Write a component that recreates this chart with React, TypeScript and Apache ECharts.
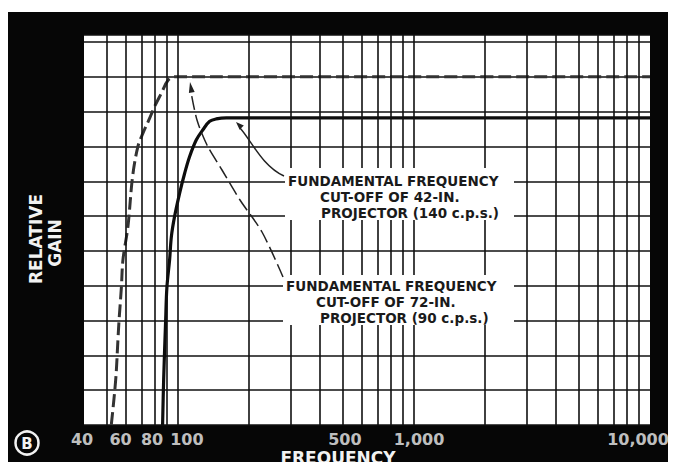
import { useEffect, useRef } from "react";
import * as echarts from "echarts";

// Dashed curve (42-in. projector response), frequency in c.p.s. vs relative gain
const dashedFreq = [52.2, 54.5, 55.7, 56.3, 57.6, 58.5, 61.4, 64.3, 67.7, 71.1, 75.9, 79.7, 85.1, 90.8, 96.8, 10000];
const dashedGain = [0, 1.3, 2.45, 3.0, 3.95, 4.75, 5.7, 7.15, 8.0, 8.38, 8.81, 9.15, 9.53, 9.9, 10.0, 10.0];

// Solid curve (72-in. projector response)
const solidFreq = [86.1, 87.0, 88.7, 89.8, 92.2, 93.8, 96.8, 101.7, 106.8, 112.1, 119.7, 127.6, 136.3, 145.4, 160.3, 10000];
const solidGain = [0, 1.3, 3.0, 3.95, 4.74, 5.41, 5.99, 6.66, 7.23, 7.71, 8.19, 8.48, 8.72, 8.79, 8.82, 8.82];

// Log grid lines (vertical)
const gridFreqs = [50, 60, 70, 80, 90, 100, 200, 300, 400, 500, 600, 700, 800, 900, 1000, 2000, 3000, 4000, 5000, 6000, 7000, 8000, 9000];

// Tick labels
const tickValues = [40, 60, 80, 100, 500, 1000, 10000];
const tickLabels = ["40", "60", "80", "100", "500", "1,000", "10,000"];
const tickLabelNudge = [-2, -5, -3, 9, 2, 5, -12];

const label1Lines = ["FUNDAMENTAL FREQUENCY", "CUT-OFF OF 42-IN.", "PROJECTOR (140 c.p.s.)"];
const label2Lines = ["FUNDAMENTAL FREQUENCY", "CUT-OFF OF 72-IN.", "PROJECTOR (90 c.p.s.)"];

const FONT = '"DejaVu Sans", sans-serif';

export default function App() {
  const ref = useRef<HTMLDivElement>(null);
  useEffect(() => {
    const chart = echarts.init(ref.current!, null, { renderer: "svg" });
    const lineStyle = (pad: number) => ({
      fill: "#1a1a1a",
      font: `bold 13.5px ${FONT}`,
      lineHeight: 15.8,
      padding: [0, 0, 0, pad],
    });
    const annBlock = (lines: string[], x: number, y: number, pads: number[]) => ({
      type: "text",
      z: 20,
      x,
      y,
      style: {
        text: `{a|${lines[0]}}\n{b|${lines[1]}}\n{c|${lines[2]}}`,
        textAlign: "left",
        textVerticalAlign: "top",
        rich: {
          a: lineStyle(pads[0]),
          b: lineStyle(pads[1]),
          c: lineStyle(pads[2]),
        },
      },
    });
    chart.setOption({
      animation: false,
      backgroundColor: "#ffffff",
      grid: {
        left: 84,
        right: 25,
        top: 35,
        bottom: 37,
        show: true,
        backgroundColor: "#ffffff",
        borderWidth: 0,
      },
      xAxis: {
        type: "log",
        logBase: 10,
        min: 40,
        max: 10000,
        axisLine: { show: false },
        axisTick: { show: false },
        axisLabel: { show: false },
        splitLine: { show: false },
      },
      yAxis: {
        type: "value",
        min: 0,
        max: 11.2,
        interval: 1,
        axisLine: { show: false },
        axisTick: { show: false },
        axisLabel: { show: false },
        splitLine: { show: true, lineStyle: { color: "#111", width: 1.6 } },
      },
      series: [
        {
          type: "line",
          name: "grid",
          data: [],
          z: 1,
          silent: true,
          markLine: {
            silent: true,
            symbol: ["none", "none"],
            label: { show: false },
            lineStyle: { color: "#111", width: 1.6, type: "solid" },
            emphasis: { disabled: true },
            data: gridFreqs.map((f) => ({ xAxis: f })),
          },
        },
        {
          type: "line",
          name: "42-in.",
          z: 4,
          data: dashedFreq.map((f, i) => [f, dashedGain[i]]),
          showSymbol: false,
          symbol: "none",
          smooth: 0.35,
          lineStyle: { color: "#333", width: 3, type: [13, 5] },
        },
        {
          type: "line",
          name: "72-in.",
          z: 4,
          data: solidFreq.map((f, i) => [f, solidGain[i]]),
          showSymbol: false,
          symbol: "none",
          smooth: 0.35,
          lineStyle: { color: "#0d0d0d", width: 3.2 },
        },
        {
          type: "scatter",
          name: "ticks",
          z: 5,
          clip: false,
          silent: true,
          symbol: "circle",
          symbolSize: 1,
          itemStyle: { color: "rgba(0,0,0,0)" },
          data: tickValues.map((v, i) => ({
            value: [v, 0],
            label: { offset: [tickLabelNudge[i], 0] },
          })),
          label: {
            show: true,
            position: "bottom",
            distance: 6,
            color: "#f2f2f2",
            fontFamily: FONT,
            fontWeight: "bold",
            fontSize: 16,
            formatter: (p: any) => tickLabels[p.dataIndex],
          },
        },
      ],
      graphic: [
        {
          type: "rect",
          z: -10,
          shape: { x: 8, y: 12, width: 660, height: 450 },
          style: { fill: "#060606" },
        },
        // white label boxes
        {
          type: "rect",
          z: 15,
          shape: { x: 285, y: 168, width: 229, height: 52 },
          style: { fill: "#ffffff" },
        },
        {
          type: "rect",
          z: 15,
          shape: { x: 283, y: 275, width: 231, height: 50 },
          style: { fill: "#ffffff" },
        },
        annBlock(label1Lines, 288, 173.5, [0, 32, 33]),
        annBlock(label2Lines, 286, 278.5, [0, 30, 34]),
        // arrow 1 (curved, to solid peak)
        {
          type: "bezierCurve",
          z: 16,
          shape: { x1: 284, y1: 176, cpx1: 262, cpy1: 166, cpx2: 251, cpy2: 140, x2: 240, y2: 128 },
          style: { stroke: "#222", lineWidth: 1.5, fill: "none" },
        },
        {
          type: "polygon",
          z: 16,
          shape: { points: [[236, 122], [243.8, 125.6], [239.6, 129.8]] },
          style: { fill: "#222" },
        },
        // arrow 2 (dashed, to dashed peak)
        {
          type: "polyline",
          z: 16,
          shape: {
            points: [[283, 277], [262, 232], [240, 200], [222, 170], [207, 145], [197, 120], [191, 92]],
            smooth: 0.3,
          },
          style: { stroke: "#222", lineWidth: 1.5, lineDash: [14, 5], fill: "none" },
        },
        {
          type: "polygon",
          z: 16,
          shape: { points: [[190, 82], [194.7, 92], [188.9, 93]] },
          style: { fill: "#222" },
        },
        // axis titles
        {
          type: "text",
          z: 20,
          x: 36,
          y: 239,
          rotation: Math.PI / 2,
          style: {
            text: "RELATIVE",
            fill: "#f2f2f2",
            font: `bold 17px ${FONT}`,
            textAlign: "center",
            textVerticalAlign: "middle",
          },
        },
        {
          type: "text",
          z: 20,
          x: 55,
          y: 243,
          rotation: Math.PI / 2,
          style: {
            text: "GAIN",
            fill: "#f2f2f2",
            font: `bold 17px ${FONT}`,
            textAlign: "center",
            textVerticalAlign: "middle",
          },
        },
        {
          type: "text",
          z: 20,
          x: 338,
          y: 449,
          style: {
            text: "FREQUENCY",
            fill: "#f2f2f2",
            font: `bold 17px ${FONT}`,
            textAlign: "center",
            textVerticalAlign: "top",
          },
        },
        // "B" badge
        {
          type: "circle",
          z: 20,
          shape: { cx: 27, cy: 443, r: 11.5 },
          style: { fill: "#060606", stroke: "#f2f2f2", lineWidth: 2.5 },
        },
        {
          type: "text",
          z: 21,
          x: 27,
          y: 444,
          style: {
            text: "B",
            fill: "#f2f2f2",
            font: `bold 15px ${FONT}`,
            textAlign: "center",
            textVerticalAlign: "middle",
          },
        },
      ],
    });
    return () => chart.dispose();
  }, []);
  return (
    <div
      ref={ref}
      style={{ position: "fixed", left: 0, top: 0, width: 675, height: 462 }}
    />
  );
}
